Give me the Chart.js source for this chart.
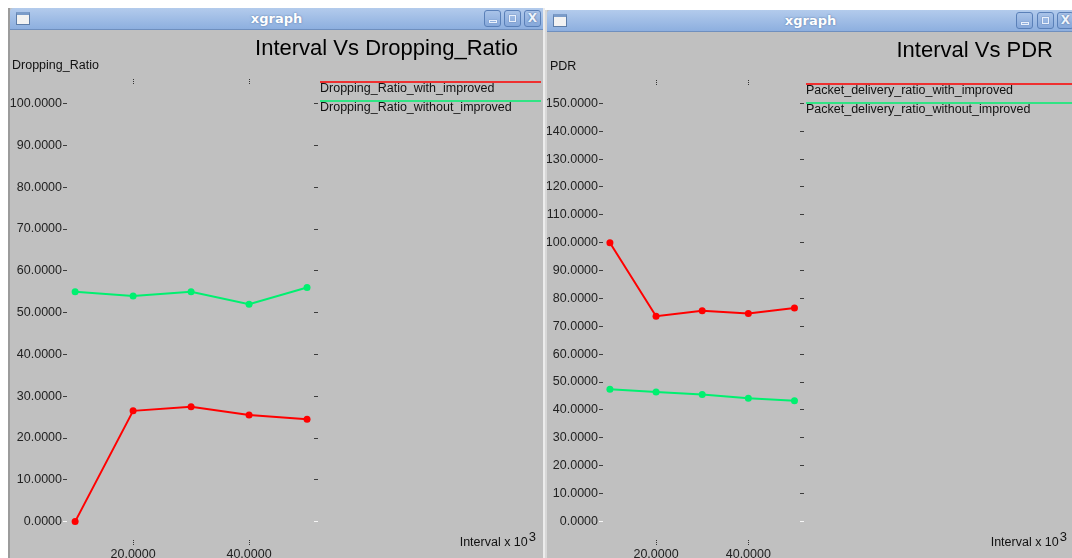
<!DOCTYPE html>
<html>
<head>
<meta charset="utf-8">
<title>xgraph</title>
<script src="https://cdn.jsdelivr.net/npm/chart.js@4.4.1/dist/chart.umd.min.js"></script>
<style>
  html, body { margin: 0; padding: 0; background: #fff; }
  body { width: 1072px; height: 558px; overflow: hidden; position: relative; font-family: "Liberation Sans", Arial, sans-serif; }
  .win { position: absolute; background: #c0c0c0; overflow: hidden; }
  .titlebar {
    position: absolute; left: 0; top: 0; right: 0; height: 21px;
    background: linear-gradient(#b3cbec, #8dafdf);
    border-bottom: 1px solid #6f8fbe;
    border-top-left-radius: 4px;
    color: #fff; font: bold 13px "DejaVu Sans", sans-serif;
    text-align: center; line-height: 21px;
    text-shadow: 0 0 2px #4e6f9f;
  }
  .wicon {
    position: absolute; left: 6px; top: 4px; width: 12px; height: 9px;
    background: #f2f2f2; border: 1px solid #5e7da8; border-top: 3px solid #7b9cc9;
  }
  .btn {
    position: absolute; top: 2px; width: 15px; height: 15px;
    border: 1px solid #5a80b8; border-radius: 3px;
    background: linear-gradient(#a9c3e8, #86a8da);
  }
  .btn i { position: absolute; display: block; border: 1px solid #e9f0fb; box-shadow: 0 0 1px #46679a; }
  .btn.min i { left: 4px; top: 9px; width: 6px; height: 1px; }
  .btn.max i { left: 4px; top: 4px; width: 5px; height: 5px; }
  .btn.cls { color: #eef4fc; font: bold 12px "DejaVu Sans", sans-serif; line-height: 15px; text-shadow: 0 0 2px #3e5f92; }
  canvas { position: absolute; left: 0; }
</style>
</head>
<body>

<div class="win" id="winLeft" style="left:8px; top:8px; width:533px; height:560px; border-left:2px solid #9c9c9c; border-right:2px solid #ececec;">
  <div class="titlebar"><span class="wicon"></span>xgraph
    <span class="btn min" style="left:474px;"><i></i></span>
    <span class="btn max" style="left:494px;"><i></i></span>
    <span class="btn cls" style="left:514px;">X</span>
  </div>
  <canvas id="dropChart" width="531" height="540" style="top:22px;"></canvas>
</div>

<div class="win" id="winRight" style="left:545px; top:10px; width:527px; height:560px; border-left:2px solid #d8d8d8;">
  <div class="titlebar"><span class="wicon"></span>xgraph
    <span class="btn min" style="left:469px;"><i></i></span>
    <span class="btn max" style="left:490px;"><i></i></span>
    <span class="btn cls" style="left:510px;">X</span>
  </div>
  <canvas id="pdrChart" width="525" height="540" style="top:21px;"></canvas>
</div>

<script>
// interval values (x 10^3) shared by both graphs
const intervals = [10, 20, 30, 40, 50];
const intervalTicks = [20, 40];

// dropping ratio (%)
const dropWithImproved = [0, 26.5, 27.5, 25.5, 24.5];
const dropWithoutImproved = [55, 54, 55, 52, 56];
const dropTicks = [0, 10, 20, 30, 40, 50, 60, 70, 80, 90, 100];

// packet delivery ratio (%)
const pdrWithImproved = [100, 73.6, 75.6, 74.6, 76.6];
const pdrWithoutImproved = [47.4, 46.4, 45.5, 44.2, 43.3];
const pdrTicks = [0, 10, 20, 30, 40, 50, 60, 70, 80, 90, 100, 110, 120, 130, 140, 150];

const RED = '#ff0000';
const GREEN = '#00f070';
const FONT = '"Liberation Sans", Arial, sans-serif';

function toPoints(ys) {
  return intervals.map((x, i) => ({ x: x, y: ys[i] }));
}

// xgraph style text: title, axis names and legend (line above each label)
const xgraphText = {
  id: 'xgraphText',
  afterDraw(chart, args, opts) {
    const ctx = chart.ctx;
    const w = chart.width;
    ctx.save();
    ctx.fillStyle = '#000';

    ctx.font = '22px ' + FONT;
    ctx.textAlign = 'right';
    ctx.textBaseline = 'alphabetic';
    ctx.fillText(opts.title, opts.titleRight, opts.titleBaseline);

    ctx.font = '12.5px ' + FONT;
    ctx.textAlign = 'left';
    ctx.textBaseline = 'middle';
    ctx.fillStyle = '#111';
    ctx.fillText(opts.yName, opts.yNameX, 36);

    // x axis name with the 10^3 exponent
    ctx.font = '13px ' + FONT;
    const expW = ctx.measureText('3').width;
    ctx.fillText('3', opts.xNameRight - expW, opts.xNameY - 6);
    ctx.font = '12.5px ' + FONT;
    ctx.textAlign = 'right';
    ctx.fillText(opts.xName, opts.xNameRight - expW - 1, opts.xNameY);

    // legend
    ctx.textAlign = 'left';
    chart.data.datasets.forEach((ds, i) => {
      const y = opts.legendTop + i * 19;
      ctx.strokeStyle = ds.borderColor;
      ctx.lineWidth = 1.5;
      ctx.beginPath();
      ctx.moveTo(opts.legendX, y);
      ctx.lineTo(w, y);
      ctx.stroke();
      ctx.fillStyle = '#111';
      ctx.fillText(ds.label, opts.legendX, y + 7);
    });
    ctx.restore();
  }
};

function tickColor(ctx) {
  return ctx.tick && ctx.tick.value === 0 ? '#f6f6f6' : '#3c3c3c';
}

function buildChart(id, cfg) {
  const fixTicks = vals => axis => { axis.ticks = vals.map(v => ({ value: v })); };
  const fmt = v => Number(v).toFixed(4);
  const tickFont = { family: FONT, size: 12.5 };

  return new Chart(document.getElementById(id), {
    type: 'line',
    data: {
      datasets: [
        {
          label: cfg.labels[0],
          data: toPoints(cfg.series[0]),
          borderColor: RED, backgroundColor: RED,
          borderWidth: 2, pointRadius: 3.5, pointBorderWidth: 0
        },
        {
          label: cfg.labels[1],
          data: toPoints(cfg.series[1]),
          borderColor: GREEN, backgroundColor: GREEN,
          borderWidth: 2, pointRadius: 3.5, pointBorderWidth: 0
        }
      ]
    },
    options: {
      responsive: false,
      animation: false,
      devicePixelRatio: 1,
      layout: { padding: { left: 0, top: 0, bottom: 0, right: cfg.padRight } },
      elements: { line: { tension: 0 } },
      plugins: {
        legend: { display: false },
        title: { display: false },
        tooltip: { enabled: false },
        xgraphText: cfg.text
      },
      scales: {
        x: {
          type: 'linear', position: 'bottom',
          min: cfg.xMin, max: cfg.xMax,
          afterBuildTicks: fixTicks(intervalTicks),
          afterFit: s => { s.height = cfg.bottomH; },
          border: { display: false },
          grid: { drawOnChartArea: false, tickLength: 5, color: '#333', tickBorderDash: [1, 1] },
          ticks: { font: tickFont, color: '#222', padding: 2, maxRotation: 0, autoSkip: false, callback: fmt }
        },
        xTop: {
          type: 'linear', position: 'top',
          min: cfg.xMin, max: cfg.xMax,
          afterBuildTicks: fixTicks(intervalTicks),
          afterFit: s => { s.height = cfg.topH; },
          border: { display: false },
          grid: { drawOnChartArea: false, tickLength: 5, color: '#333', tickBorderDash: [1, 1] },
          ticks: { display: false }
        },
        y: {
          type: 'linear', position: 'left',
          min: cfg.yMin, max: cfg.yMax,
          afterBuildTicks: fixTicks(cfg.yTicks),
          afterFit: s => { s.width = cfg.leftW; },
          border: { display: false },
          grid: { drawOnChartArea: false, tickLength: 4, color: tickColor },
          ticks: { font: tickFont, color: '#222', padding: 1, autoSkip: false, callback: fmt }
        },
        yRight: {
          type: 'linear', position: 'right',
          min: cfg.yMin, max: cfg.yMax,
          afterBuildTicks: fixTicks(cfg.yTicks),
          afterFit: s => { s.width = 4; },
          border: { display: false },
          grid: { drawOnChartArea: false, tickLength: 4, color: tickColor },
          ticks: { display: false }
        }
      }
    },
    plugins: [xgraphText]
  });
}

buildChart('dropChart', {
  labels: ['Dropping_Ratio_with_improved', 'Dropping_Ratio_without_improved'],
  series: [dropWithImproved, dropWithoutImproved],
  yTicks: dropTicks,
  xMin: 8.6, xMax: 51.2,
  yMin: -4.4, yMax: 104.7,
  leftW: 57, topH: 54, bottomH: 30, padRight: 223,
  text: {
    title: 'Interval Vs Dropping_Ratio', titleRight: 508, titleBaseline: 25,
    yName: 'Dropping_Ratio', yNameX: 2,
    xName: 'Interval x 10', xNameRight: 526, xNameY: 513,
    legendX: 310, legendTop: 52
  }
});

buildChart('pdrChart', {
  labels: ['Packet_delivery_ratio_with_improved', 'Packet_delivery_ratio_without_improved'],
  series: [pdrWithImproved, pdrWithoutImproved],
  yTicks: pdrTicks,
  xMin: 8.5, xMax: 51.2,
  yMin: -6.7, yMax: 156.6,
  leftW: 56, topH: 54, bottomH: 31, padRight: 268,
  text: {
    title: 'Interval Vs PDR', titleRight: 506, titleBaseline: 26,
    yName: 'PDR', yNameX: 3,
    xName: 'Interval x 10', xNameRight: 520, xNameY: 512,
    legendX: 259, legendTop: 53
  }
});
</script>
</body>
</html>
